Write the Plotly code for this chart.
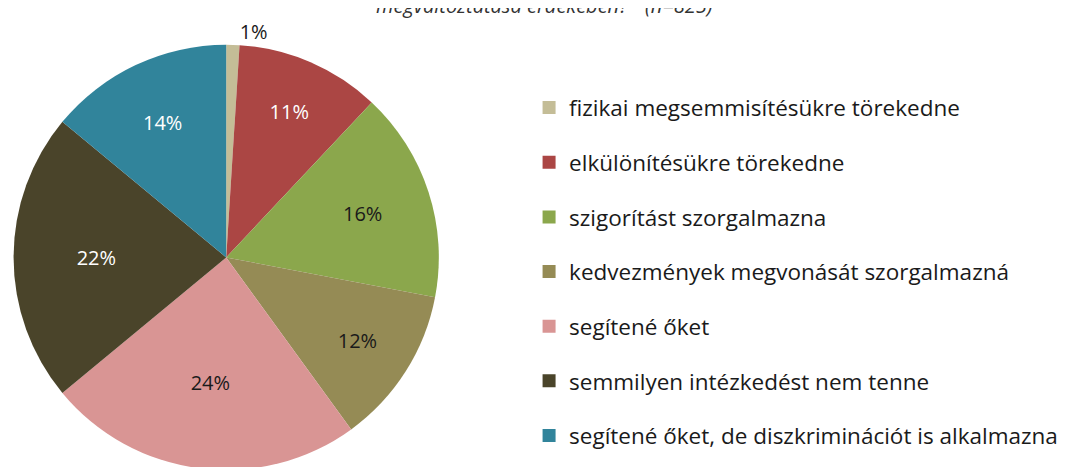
import plotly.graph_objects as go

categories = [
    "fizikai megsemmisítésükre törekedne",
    "elkülönítésükre törekedne",
    "szigorítást szorgalmazna",
    "kedvezmények megvonását szorgalmazná",
    "segítené őket",
    "semmilyen intézkedést nem tenne",
    "segítené őket, de diszkriminációt is alkalmazna",
]
values = [1, 11, 16, 12, 24, 22, 14]
colors = ["#C4BD97", "#AB4644", "#8BA74C", "#958B55", "#D99594", "#4A442A", "#31849B"]
text_colors = ["#1a1a1a", "#ffffff", "#1a1a1a", "#1a1a1a", "#1a1a1a", "#ffffff", "#ffffff"]
text_positions = ["outside", "inside", "inside", "inside", "inside", "inside", "inside"]
title_text = "megváltoztatása érdekében?”  (n=825)"

W, H = 1076, 467
fig = go.Figure()

fig.add_trace(go.Pie(
    values=values,
    labels=categories,
    sort=False,
    direction="clockwise",
    rotation=0,
    marker=dict(colors=colors, line=dict(width=0)),
    texttemplate="%{value}%",
    textposition=text_positions,
    insidetextorientation="horizontal",
    textfont=dict(family="Open Sans", size=20, color=text_colors),
    outsidetextfont=dict(family="Open Sans", size=20, color="#1a1a1a"),
    showlegend=False,
    hoverinfo="label+percent",
    domain=dict(x=[1 / W, 429 / W], y=[1 - 465 / H, 1 - 37 / H]),
))

# legend entries as separate traces for controlled spacing
for cat, col in zip(categories, colors):
    fig.add_trace(go.Scatter(
        x=[None], y=[None], mode="markers", name=cat,
        marker=dict(symbol="square", size=13, color=col),
        legendgroup=cat, showlegend=True,
    ))

fig.update_layout(
    width=W, height=H,
    margin=dict(l=0, r=0, t=0, b=0),
    paper_bgcolor="white", plot_bgcolor="white",
    xaxis=dict(visible=False), yaxis=dict(visible=False),
    legend=dict(
        x=519 / W, y=1 - 79 / H, xanchor="left", yanchor="top",
        font=dict(family="Open Sans", size=22.5, color="#1a1a1a"),
        tracegroupgap=22.4, itemwidth=30, bgcolor="rgba(0,0,0,0)",
    ),
    annotations=[dict(
        text=title_text, x=534 / W, y=1, xref="paper", yref="paper",
        xanchor="center", yanchor="bottom", yshift=-13, showarrow=False,
        font=dict(family="Open Sans", size=20, color="#333333", style="italic"),
    )],
)

fig.write_html("out.html")
